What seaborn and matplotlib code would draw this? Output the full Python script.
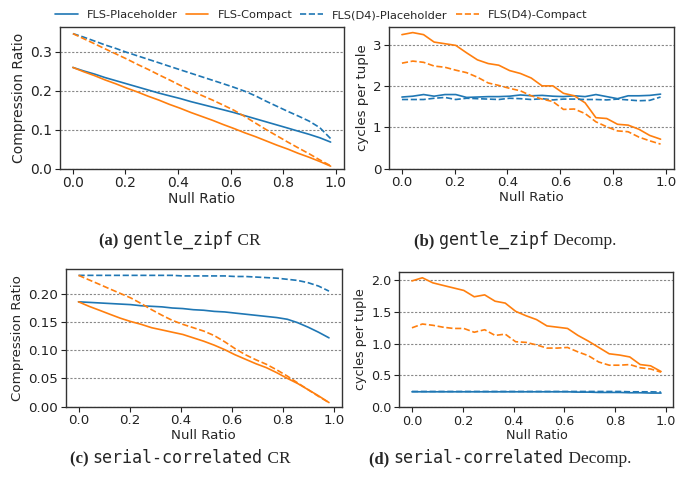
import numpy as np
import pandas as pd
import matplotlib
matplotlib.use("Agg")
import matplotlib.pyplot as plt
import seaborn as sns

# null ratio grid (25 runs, 0 .. 0.98)
null_ratio = [0.000, 0.041, 0.082, 0.122, 0.163, 0.204, 0.245, 0.286, 0.327,
              0.367, 0.408, 0.449, 0.490, 0.531, 0.572, 0.612, 0.653, 0.694,
              0.735, 0.776, 0.817, 0.857, 0.898, 0.939, 0.980]

series_names = ["FLS-Placeholder", "FLS-Compact",
                "FLS(D4)-Placeholder", "FLS(D4)-Compact"]

# (a) gentle_zipf compression ratio
zipf_cr_fls_ph = [0.260, 0.251, 0.243, 0.234, 0.226, 0.218, 0.210, 0.202, 0.194,
                  0.187, 0.180, 0.172, 0.165, 0.158, 0.151, 0.144, 0.136, 0.128,
                  0.120, 0.112, 0.104, 0.096, 0.088, 0.079, 0.068]
zipf_cr_fls_cp = [0.260, 0.249, 0.239, 0.228, 0.218, 0.207, 0.197, 0.186, 0.176,
                  0.165, 0.155, 0.144, 0.134, 0.124, 0.113, 0.103, 0.092, 0.082,
                  0.071, 0.060, 0.050, 0.039, 0.029, 0.018, 0.006]
zipf_cr_d4_ph = [0.347, 0.338, 0.328, 0.318, 0.309, 0.299, 0.290, 0.281, 0.272,
                 0.263, 0.254, 0.245, 0.236, 0.227, 0.218, 0.209, 0.199, 0.187,
                 0.173, 0.160, 0.147, 0.135, 0.122, 0.105, 0.077]
zipf_cr_d4_cp = [0.347, 0.334, 0.321, 0.308, 0.295, 0.282, 0.268, 0.255, 0.241,
                 0.228, 0.214, 0.201, 0.188, 0.176, 0.163, 0.150, 0.134, 0.117,
                 0.100, 0.084, 0.068, 0.053, 0.038, 0.022, 0.007]

# (b) gentle_zipf decompression, cycles per tuple
zipf_dec_fls_ph = [1.73, 1.75, 1.79, 1.75, 1.79, 1.79, 1.72, 1.73, 1.74, 1.74,
                   1.75, 1.78, 1.76, 1.77, 1.75, 1.74, 1.76, 1.74, 1.79, 1.74,
                   1.69, 1.76, 1.76, 1.77, 1.80]
zipf_dec_fls_cp = [3.24, 3.29, 3.24, 3.06, 3.02, 2.98, 2.80, 2.63, 2.54, 2.50,
                   2.37, 2.30, 2.19, 2.00, 2.00, 1.82, 1.76, 1.59, 1.23, 1.21,
                   1.07, 1.05, 0.95, 0.80, 0.71]
zipf_dec_d4_ph = [1.67, 1.67, 1.67, 1.70, 1.72, 1.67, 1.70, 1.69, 1.68, 1.67,
                  1.70, 1.69, 1.67, 1.69, 1.66, 1.68, 1.68, 1.67, 1.67, 1.66,
                  1.68, 1.66, 1.64, 1.65, 1.73]
zipf_dec_d4_cp = [2.55, 2.60, 2.57, 2.48, 2.45, 2.38, 2.32, 2.21, 2.07, 2.01,
                  1.94, 1.88, 1.76, 1.68, 1.62, 1.43, 1.44, 1.33, 1.13, 1.01,
                  0.91, 0.89, 0.76, 0.67, 0.59]

# (c) serial-correlated compression ratio
serial_cr_fls_ph = [0.186, 0.185, 0.184, 0.183, 0.182, 0.181, 0.179, 0.178, 0.177,
                    0.175, 0.174, 0.172, 0.171, 0.169, 0.168, 0.166, 0.164, 0.162,
                    0.160, 0.158, 0.155, 0.149, 0.141, 0.132, 0.122]
serial_cr_fls_cp = [0.186, 0.178, 0.171, 0.164, 0.157, 0.151, 0.146, 0.140, 0.136,
                    0.132, 0.128, 0.122, 0.116, 0.109, 0.101, 0.092, 0.084, 0.076,
                    0.069, 0.060, 0.050, 0.041, 0.030, 0.019, 0.007]
serial_cr_d4_ph = [0.233, 0.233, 0.233, 0.233, 0.233, 0.233, 0.233, 0.233, 0.233,
                   0.233, 0.232, 0.232, 0.232, 0.232, 0.232, 0.231, 0.231, 0.230,
                   0.229, 0.228, 0.226, 0.224, 0.220, 0.214, 0.205]
serial_cr_d4_cp = [0.233, 0.225, 0.217, 0.209, 0.201, 0.193, 0.183, 0.172, 0.162,
                   0.153, 0.146, 0.140, 0.134, 0.126, 0.115, 0.103, 0.092, 0.083,
                   0.075, 0.065, 0.054, 0.042, 0.030, 0.018, 0.007]

# (d) serial-correlated decompression, cycles per tuple
serial_dec_fls_ph = [0.24, 0.24, 0.24, 0.24, 0.24, 0.24, 0.24, 0.24, 0.24, 0.24,
                     0.24, 0.24, 0.24, 0.24, 0.24, 0.24, 0.235, 0.235, 0.23, 0.23,
                     0.23, 0.225, 0.225, 0.22, 0.22]
serial_dec_fls_cp = [1.99, 2.04, 1.96, 1.92, 1.88, 1.84, 1.74, 1.77, 1.67, 1.64,
                     1.51, 1.44, 1.38, 1.28, 1.26, 1.24, 1.13, 1.04, 0.94, 0.84,
                     0.82, 0.79, 0.67, 0.65, 0.56]
serial_dec_d4_ph = [0.245, 0.245, 0.245, 0.245, 0.245, 0.245, 0.245, 0.245, 0.245,
                    0.245, 0.245, 0.245, 0.245, 0.245, 0.245, 0.245, 0.245, 0.245,
                    0.245, 0.245, 0.245, 0.24, 0.24, 0.24, 0.235]
serial_dec_d4_cp = [1.25, 1.31, 1.29, 1.26, 1.24, 1.24, 1.18, 1.22, 1.13, 1.15,
                    1.03, 1.02, 0.98, 0.93, 0.93, 0.94, 0.87, 0.81, 0.71, 0.66,
                    0.66, 0.67, 0.62, 0.60, 0.55]

panels = [
    ("Compression Ratio", [zipf_cr_fls_ph, zipf_cr_fls_cp, zipf_cr_d4_ph, zipf_cr_d4_cp]),
    ("cycles per tuple", [zipf_dec_fls_ph, zipf_dec_fls_cp, zipf_dec_d4_ph, zipf_dec_d4_cp]),
    ("Compression Ratio", [serial_cr_fls_ph, serial_cr_fls_cp, serial_cr_d4_ph, serial_cr_d4_cp]),
    ("cycles per tuple", [serial_dec_fls_ph, serial_dec_fls_cp, serial_dec_d4_ph, serial_dec_d4_cp]),
]

captions = [
    [("(a) ", "serif_b"), ("gentle_zipf", "mono"), (" CR", "serif")],
    [("(b) ", "serif_b"), ("gentle_zipf", "mono"), (" Decomp.", "serif")],
    [("(c) ", "serif_b"), ("serial-correlated", "mono"), (" CR", "serif")],
    [("(d) ", "serif_b"), ("serial-correlated", "mono"), (" Decomp.", "serif")],
]

sns.set_style("ticks")
plt.rcParams["font.family"] = ["DejaVu Sans"]

W, H = 691, 486
fig = plt.figure(figsize=(W / 100, H / 100), dpi=100)

# axes boxes in pixels: left, top, right, bottom
boxes = [(60, 27, 343.5, 168.5), (389, 27, 673.5, 168.5),
         (66, 269, 341.5, 406.5), (399.5, 272, 673.5, 407)]
text_sizes = [10, 9.6, 9.6, 9.2]
caption_pos = [(180, 245), (515, 245), (180, 463), (500, 463)]

colors = ["#1f77b4", "#ff7f0e", "#1f77b4", "#ff7f0e"]
styles = ["-", "-", "--", "--"]

axes = []
for (l, t, r, b), (ylabel, ys), fs in zip(boxes, panels, text_sizes):
    ax = fig.add_axes([l / W, 1 - b / H, (r - l) / W, (b - t) / H])
    df = pd.DataFrame({"x": null_ratio * 4,
                       "y": np.concatenate(ys),
                       "series": np.repeat(series_names, len(null_ratio))})
    for name, c, ls in zip(series_names, colors, styles):
        sub = df[df["series"] == name]
        sns.lineplot(data=sub, x="x", y="y", ax=ax, color=c, linestyle=ls,
                     linewidth=1.2, label=name, legend=False)
    ax.set_ylim(bottom=0)
    ax.set_xlabel("Null Ratio", fontsize=fs, labelpad=1)
    ax.set_ylabel(ylabel, fontsize=fs, labelpad=3)
    ax.tick_params(labelsize=fs, length=3.5, pad=2, colors="#222222")
    ax.yaxis.grid(True, linestyle=(0, (2, 1.5)), color="#888888", linewidth=0.8)
    ax.xaxis.grid(False)
    ax.set_xticks([0.0, 0.2, 0.4, 0.6, 0.8, 1.0])
    for s in ax.spines.values():
        s.set_linewidth(1.0)
        s.set_color("#333333")
    axes.append(ax)

axes[1].set_yticks([0, 1, 2, 3])
axes[2].set_yticks([0.0, 0.05, 0.10, 0.15, 0.20])
axes[2].yaxis.set_major_formatter(matplotlib.ticker.FormatStrFormatter("%.2f"))
axes[3].set_yticks([0.0, 0.5, 1.0, 1.5, 2.0])

handles, labels = axes[0].get_legend_handles_labels()
fig.legend(handles, labels, loc="center", bbox_to_anchor=(321 / W, 1 - 15 / H),
           ncol=4, frameon=False, fontsize=8.2, handlelength=2.0,
           handletextpad=0.8, columnspacing=0.7, borderaxespad=0)

# captions: mixed serif / monospace pieces on one baseline
fonts = {"serif_b": dict(family="Liberation Serif", weight="bold", size=12),
         "serif": dict(family="Liberation Serif", size=12.5),
         "mono": dict(family="DejaVu Sans Mono", size=12)}
fig.canvas.draw()
renderer = fig.canvas.get_renderer()
for parts, (cx, cy) in zip(captions, caption_pos):
    texts = [fig.text(0, 1 - cy / H, s, va="baseline", ha="left", **fonts[k])
             for s, k in parts]
    widths = [t.get_window_extent(renderer).width for t in texts]
    x = cx - sum(widths) / 2
    for t, w in zip(texts, widths):
        t.set_x(x / W)
        x += w

fig.savefig("out.png", dpi=100)
